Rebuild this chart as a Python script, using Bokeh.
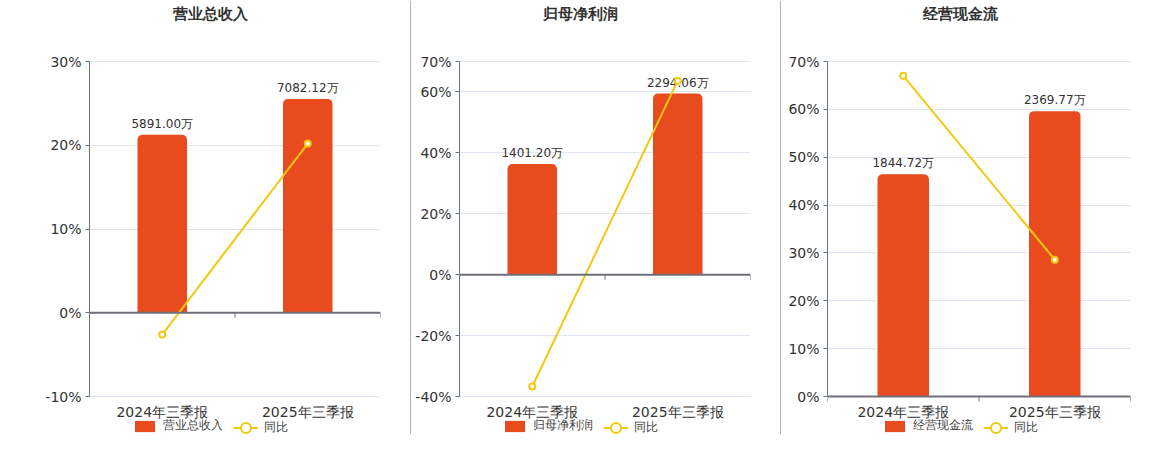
from bokeh.plotting import figure
from bokeh.layouts import row
from bokeh.models import (Range1d, LinearAxis, FixedTicker, Grid, Legend, LegendItem,
                          Label, PrintfTickFormatter, Div, Span)
from bokeh.core.properties import value
from bokeh.embed import file_html
from bokeh.resources import INLINE

# data
categories = ["2024年三季报", "2025年三季报"]
titles = ["营业总收入", "归母净利润", "经营现金流"]

revenue = [5891.00, 7082.12]
revenue_yoy = [-2.6, 20.2]
net_profit = [1401.20, 2294.06]
net_profit_yoy = [-36.7, 63.7]
cash_flow = [1844.72, 2369.77]
cash_flow_yoy = [67.0, 28.6]

# percent axis of each panel
pct_ranges = [(-10, 30), (-40, 70), (0, 70)]
pct_ticks = [[-10, 0, 10, 20, 30], [-40, -20, 0, 20, 40, 60, 70], [0, 10, 20, 30, 40, 50, 60, 70]]
# hidden value axis for the bars (max at top of the plot)
bar_max = [8320, 2700, 2782]

BAR = "#e84c1e"
LINE = "#f2c811"
AXIS = "#6e7079"
FONT = "DejaVu Sans"

# the frame fills the whole height; the plot area sits inside it
H = 434
PLOT_TOP = 61      # px from the top
PLOT_BOTTOM = 396
PLOT_H = PLOT_BOTTOM - PLOT_TOP


def stretch(lo, hi):
    pp = (hi - lo) / PLOT_H
    return Range1d(lo - (H - PLOT_BOTTOM) * pp, hi + PLOT_TOP * pp)


def make_panel(title, values, yoy, pr, ticks, bmax, width, left, right, center):
    lo, hi = pr
    p = figure(width=width, height=H, x_range=Range1d(0, len(categories)),
               y_range=stretch(lo, hi), x_axis_type=None, y_axis_type=None,
               output_backend="svg", toolbar_location=None, title_location=None,
               min_border_left=left, min_border_right=right,
               min_border_top=0, min_border_bottom=0)
    p.outline_line_color = None
    p.background_fill_color = "white"
    p.border_fill_color = "white"
    p.extra_y_ranges = {"bar": stretch(bmax * lo / hi, bmax)}

    xs = [i + 0.5 for i in range(len(categories))]
    bounds = list(range(len(categories) + 1))

    ticker = FixedTicker(ticks=ticks)
    yaxis = LinearAxis(ticker=ticker, formatter=PrintfTickFormatter(format="%d%%"),
                       bounds=(lo, hi))
    yaxis.axis_line_color = AXIS
    yaxis.major_tick_line_color = AXIS
    yaxis.major_tick_out = 4
    yaxis.major_tick_in = 0
    yaxis.minor_tick_line_color = None
    yaxis.major_label_standoff = 4
    yaxis.major_label_text_font = FONT
    yaxis.major_label_text_font_size = "14px"
    yaxis.major_label_text_color = "#333333"
    p.add_layout(yaxis, "left")
    p.add_layout(Grid(dimension=1, ticker=ticker, grid_line_color="#e0e6f1"))

    # axis line on 0% with 5px ticks between the categories
    p.add_layout(Span(location=0, dimension="width", line_color=AXIS, line_width=2))
    tick_len = 5 * (hi - lo) / PLOT_H
    p.segment(x0=bounds, y0=[0] * len(bounds), x1=bounds, y1=[-tick_len] * len(bounds),
              line_color=AXIS, line_width=1)

    # category labels under the plot area
    p.text(x=xs, y=[lo] * len(xs), text=categories, text_align="center",
           text_baseline="middle", y_offset=15, text_font=value(FONT),
           text_font_size="14px", text_color="#333333")

    bars = p.vbar(x=xs, top=values, bottom=0, width=0.34, y_range_name="bar",
                  fill_color=BAR, line_color=None, border_radius=(5, 5, 0, 0))
    p.text(x=xs, y=values, text=["%.2f万" % v for v in values], y_range_name="bar",
           text_align="center", text_baseline="bottom", y_offset=-4,
           text_font=value(FONT), text_font_size="12px", text_color="#333333")
    ln = p.line(xs, yoy, line_color=LINE, line_width=2)
    pts = p.scatter(xs, yoy, size=6, fill_color="white", line_color=LINE, line_width=2)

    p.add_layout(Label(x=center, y=H - 13, x_units="screen", y_units="screen", text=title,
                       text_align="center", text_baseline="middle", text_font=FONT,
                       text_font_size="15px", text_font_style="bold", text_color="#333333"))

    common = dict(orientation="horizontal", padding=0, margin=0, spacing=0,
                  border_line_color=None, background_fill_alpha=0, label_standoff=6,
                  label_text_font=FONT, label_text_font_size="12px",
                  label_text_color="#444444", glyph_width=25, label_height=14)
    leg_bar = Legend(items=[LegendItem(label=title, renderers=[bars])],
                     location=(center - 78, 0), glyph_height=14, **common)
    leg_line = Legend(items=[LegendItem(label="同比", renderers=[ln, pts])],
                      location=(center + 23, -5.5), glyph_height=25, **common)
    p.add_layout(leg_bar)
    p.add_layout(leg_line)
    return p


p1 = make_panel(titles[0], revenue, revenue_yoy, pct_ranges[0], pct_ticks[0], bar_max[0],
                410, 89, 30, 121)
p2 = make_panel(titles[1], net_profit, net_profit_yoy, pct_ranges[1], pct_ticks[1], bar_max[1],
                369, 48, 30, 121)
p3 = make_panel(titles[2], cash_flow, cash_flow_yoy, pct_ranges[2], pct_ticks[2], bar_max[2],
                369, 46, 20, 133)


def sep():
    return Div(width=1, height=433, margin=(1, 0, 0, 0),
               styles={"background-color": "#b4b4b4"})


layout = row(p1, sep(), p2, sep(), p3)
open("out.html", "w").write(file_html(layout, INLINE))
